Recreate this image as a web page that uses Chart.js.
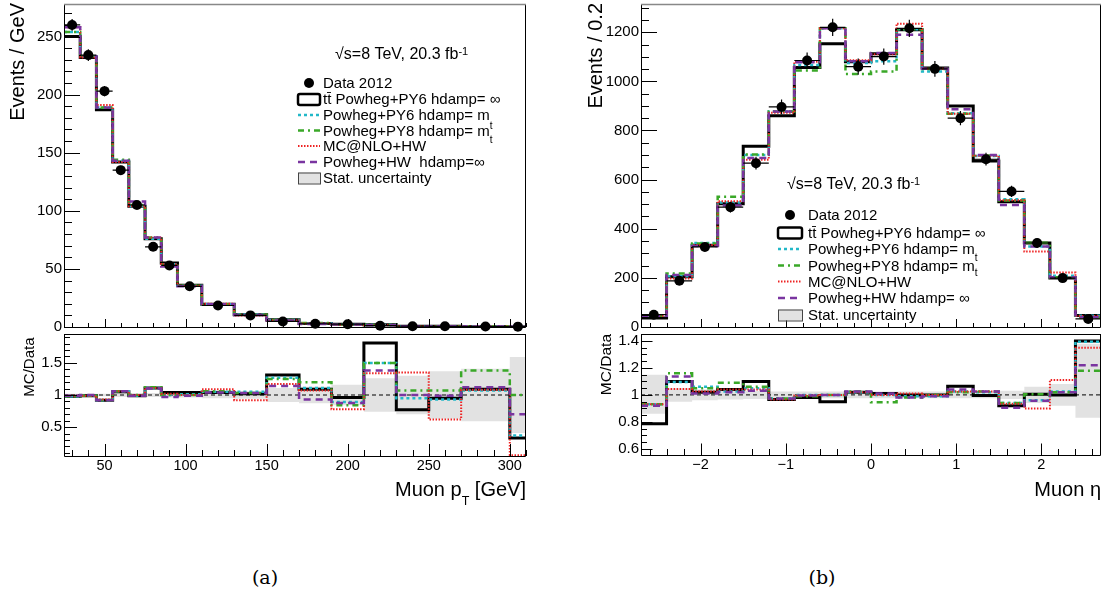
<!DOCTYPE html>
<html>
<head>
<meta charset="utf-8">
<script src="https://cdn.jsdelivr.net/npm/chart.js@4/dist/chart.umd.min.js"></script>
<style>
  body { margin: 0; background: #fff; width: 1106px; height: 596px; position: relative; overflow: hidden; }
  canvas { position: absolute; }
  .cap { position: absolute; top: 566px; font-family: 'DejaVu Serif', serif; font-size: 19px; line-height: 22px; transform: translateX(-50%); }
</style>
</head>
<body>
<canvas id="ptMain" width="530" height="332" style="left:0;top:0"></canvas>
<canvas id="ptRatio" width="530" height="180" style="left:0;top:330px"></canvas>
<canvas id="etaMain" width="546" height="332" style="left:560px;top:0"></canvas>
<canvas id="etaRatio" width="546" height="180" style="left:560px;top:330px"></canvas>
<div class="cap" style="left:265px">(a)</div>
<div class="cap" style="left:822px">(b)</div>
<script>
// (a) muon pT
const ptEdges = [25, 35, 45, 55, 65, 75, 85, 95, 110, 130, 150, 170, 190, 210, 230, 250, 270, 300, 310];
const ptData  = [260, 234, 203, 135, 105, 69, 53, 35, 18.5, 10, 4.8, 2.8, 2.4, 1.1, 0.7, 0.6, 0.4, 0.3];
const ptErr   = [5, 5, 4.5, 3.7, 3.2, 2.6, 2.3, 1.5, 1, 0.7, 0.5, 0.4, 0.35, 0.25, 0.2, 0.18, 0.12, 0.17];
const ptPy6   = [250, 232, 187, 142, 104, 76, 55, 36, 19.5, 10.5, 6.3, 3.1, 2.3, 2.0, 0.55, 0.55, 0.45, 0.1];
const ptPy6mt = [254, 233, 189, 143, 104, 76, 54, 35.5, 19.5, 10.8, 6.1, 3.1, 2.1, 1.65, 0.66, 0.55, 0.43, 0.12];
const ptPy8mt = [254, 233, 189, 144, 105, 77, 54, 35.5, 19.6, 10.6, 6.0, 3.4, 2.0, 1.65, 0.75, 0.63, 0.55, 0.3];
const ptNlo   = [258, 232, 191, 142, 104, 77, 54, 35.5, 20, 10, 5.6, 3.0, 1.9, 1.5, 0.95, 0.37, 0.43, 0.02];
const ptHw    = [258, 233, 189, 143, 108, 77, 52, 35, 19.5, 10.4, 5.5, 2.6, 2.1, 1.5, 0.7, 0.59, 0.45, 0.21];
const ptRPy6   = [0.98, 0.99, 0.92, 1.05, 0.99, 1.11, 1.04, 1.04, 1.04, 1.02, 1.31, 1.09, 0.96, 1.81, 0.77, 0.95, 1.09, 0.33];
const ptRPy6mt = [0.98, 0.99, 0.92, 1.06, 0.99, 1.11, 1.0, 1.01, 1.05, 1.05, 1.27, 1.11, 0.89, 1.5, 0.95, 0.93, 1.07, 0.37];
const ptRPy8mt = [0.98, 0.99, 0.92, 1.06, 1.0, 1.12, 1.0, 1.0, 1.06, 1.03, 1.25, 1.2, 0.84, 1.5, 1.07, 1.07, 1.38, 1.0];
const ptRNlo   = [0.99, 0.99, 0.93, 1.06, 1.0, 1.11, 1.02, 1.0, 1.09, 0.92, 1.17, 1.07, 0.78, 1.34, 1.35, 0.62, 1.08, 0.06];
const ptRHw    = [0.99, 1.0, 0.92, 1.06, 0.99, 1.1, 0.97, 0.99, 1.04, 1.03, 1.14, 0.93, 0.875, 1.38, 1.0, 0.99, 1.12, 0.7];
const ptBandLo = [0.98, 0.98, 0.98, 0.97, 0.97, 0.97, 0.96, 0.96, 0.95, 0.94, 0.89, 0.87, 0.84, 0.74, 0.7, 0.63, 0.59, 0.41];
const ptBandHi = [1.02, 1.02, 1.02, 1.03, 1.03, 1.03, 1.04, 1.04, 1.05, 1.06, 1.11, 1.13, 1.16, 1.26, 1.3, 1.37, 1.41, 1.59];
const ptXTicks = [50, 100, 150, 200, 250, 300];
const ptYTicks = [0, 50, 100, 150, 200, 250];
const ptRTicks = [0.5, 1, 1.5];

// (b) muon eta
const etaEdges = [-2.7, -2.4, -2.1, -1.8, -1.5, -1.2, -0.9, -0.6, -0.3, 0, 0.3, 0.6, 0.9, 1.2, 1.5, 1.8, 2.1, 2.4, 2.7];
const etaData  = [50, 188, 326, 488, 667, 896, 1085, 1220, 1060, 1101, 1216, 1051, 850, 683, 552, 342, 199, 33];
const etaErr   = [8, 14, 18, 22, 26, 30, 33, 35, 33, 33, 35, 32, 29, 26, 23, 18, 14, 7];
const etaPy6   = [37, 205, 333, 502, 736, 860, 1056, 1153, 1080, 1112, 1210, 1054, 900, 676, 510, 342, 199, 47];
const etaPy6mt = [46, 207, 342, 507, 700, 877, 1067, 1216, 1075, 1082, 1212, 1040, 870, 696, 520, 328, 209, 46];
const etaPy8mt = [46, 218, 340, 530, 702, 877, 1044, 1216, 1030, 1040, 1212, 1050, 868, 698, 515, 343, 203, 39];
const etaNlo   = [46, 197, 334, 512, 681, 872, 1080, 1216, 1086, 1110, 1235, 1051, 868, 697, 516, 307, 222, 45];
const etaHw    = [46, 212, 330, 495, 688, 877, 1078, 1216, 1082, 1116, 1190, 1051, 886, 700, 497, 328, 203, 40];
const etaRPy6   = [0.786, 1.10, 1.02, 1.04, 1.10, 0.966, 0.98, 0.95, 1.02, 1.01, 1.0, 1.0, 1.065, 0.995, 0.92, 1.005, 1.0, 1.4];
const etaRPy6mt = [0.93, 1.095, 1.06, 1.026, 1.05, 0.974, 1.0, 1.0, 1.02, 1.0, 0.99, 0.99, 1.026, 1.02, 0.94, 0.96, 1.026, 1.395];
const etaRPy8mt = [0.93, 1.16, 1.05, 1.09, 1.06, 0.974, 0.99, 1.0, 1.025, 0.946, 0.98, 1.0, 1.02, 1.026, 0.94, 1.005, 1.02, 1.18];
const etaRNlo   = [0.93, 1.044, 1.026, 1.04, 1.04, 0.965, 0.995, 1.0, 1.02, 1.0, 1.01, 1.0, 1.026, 1.026, 0.935, 0.90, 1.11, 1.35];
const etaRHw    = [0.92, 1.137, 1.01, 1.02, 1.03, 0.974, 0.995, 1.0, 1.025, 1.01, 0.98, 0.99, 1.04, 1.026, 0.905, 0.956, 1.02, 1.22];
const etaBandLo = [0.86, 0.95, 0.96, 0.965, 0.97, 0.975, 0.975, 0.975, 0.975, 0.975, 0.975, 0.975, 0.975, 0.975, 0.97, 0.94, 0.92, 0.83];
const etaBandHi = [1.15, 1.05, 1.04, 1.035, 1.03, 1.025, 1.025, 1.025, 1.025, 1.025, 1.025, 1.025, 1.025, 1.025, 1.03, 1.06, 1.08, 1.38];
const etaXTicks = [-2, -1, 0, 1, 2];
const etaYTicks = [0, 200, 400, 600, 800, 1000, 1200];
const etaRTicks = [0.6, 0.8, 1, 1.2, 1.4];

const ST = {
  py6:   { color: '#000000', width: 3,   dash: [] },
  py6mt: { color: '#22b8c8', width: 2.5, dash: [3, 3] },
  py8mt: { color: '#3aa828', width: 2.5, dash: [6, 4, 2, 4] },
  nlo:   { color: '#ee2222', width: 2,   dash: [1.5, 1.5] },
  hw:    { color: '#7a35a0', width: 2.5, dash: [7, 5] },
};

Chart.defaults.font.family = "'Liberation Sans', Arial, sans-serif";
Chart.defaults.color = '#000';

function steps(edges, vals) {
  return edges.map((x, i) => ({ x, y: vals[Math.min(i, vals.length - 1)] }));
}
function hist(edges, vals, st, order) {
  return { data: steps(edges, vals), stepped: 'before', borderColor: st.color, borderWidth: st.width,
           borderDash: st.dash, pointRadius: 0, fill: false, order };
}
function points(edges, vals, errs) {
  return { data: vals.map((y, i) => ({ x: (edges[i] + edges[i + 1]) / 2, y })), showLine: false,
           pointRadius: 5, pointBackgroundColor: '#000', pointBorderWidth: 0, order: 0, clip: false,
           binLo: edges.slice(0, -1), binHi: edges.slice(1), yErr: errs };
}
function band(edges, lo, hi) {
  return [
    { data: steps(edges, lo), stepped: 'before', borderWidth: 0, pointRadius: 0, fill: false, order: 10 },
    { data: steps(edges, hi), stepped: 'before', borderWidth: 0, pointRadius: 0, fill: '-1',
      backgroundColor: '#e2e2e2', order: 9 },
  ];
}
function unity(edges) {
  return { data: [{ x: edges[0], y: 1 }, { x: edges[edges.length - 1], y: 1 }], borderColor: '#000',
           borderWidth: 1, borderDash: [4, 3], pointRadius: 0, order: 8 };
}

function legendRows(ys, hwText, tdy) {
  return [
    { sym: 'dot', y: ys[0], parts: [{ t: 'Data 2012' }] },
    { sym: 'box', y: ys[1], parts: [{ t: 'tt\u0304 Powheg+PY6 hdamp= \u221E' }] },
    { sym: 'line', st: 'py6mt', y: ys[2], parts: [{ t: 'Powheg+PY6 hdamp= m' }, { t: 't', size: 10, dy: tdy[0] }] },
    { sym: 'line', st: 'py8mt', y: ys[3], parts: [{ t: 'Powheg+PY8 hdamp= m' }, { t: 't', size: 10, dy: tdy[1] }] },
    { sym: 'line', st: 'nlo', y: ys[4], parts: [{ t: 'MC@NLO+HW' }] },
    { sym: 'line', st: 'hw', y: ys[5], parts: [{ t: hwText }] },
    { sym: 'band', y: ys[6], parts: [{ t: 'Stat. uncertainty' }] },
  ];
}
const energy = [{ t: '\u221As=8 TeV, 20.3 fb' }, { t: '-1', size: 11, dy: -4 }];

const DECOR = {
  ptMain: {
    xMinor: 10, xMajor: 50, xLen: [8, 4], yMinor: 10, yMajor: 50, yLen: [16, 8], top: '#888',
    titles: [{ parts: [{ t: 'Events / GeV' }], x: 24, y: 3, size: 20, rot: true }],
    notes: [{ parts: energy, x: 335, y: 59, size: 16 }],
    legend: { sx0: 298, sx1: 320, tx: 323, size: 15,
              rows: legendRows([88, 104, 120, 135.5, 151, 167, 183], 'Powheg+HW  hdamp=\u221E', [9, 7]) },
  },
  ptRatio: {
    xMinor: 10, xMajor: 50, xLen: [12, 6], yMinor: 0.1, yMajor: 0.5, yLen: [13, 6], top: '#000',
    titles: [{ parts: [{ t: 'MC/Data' }], x: 33.5, y: 7.5, size: 15, rot: true },
             { parts: [{ t: 'Muon p' }, { t: 'T', size: 12.5, dy: 9 }, { t: ' [GeV]' }], x: 526, y: 166, size: 20, align: 'right' }],
  },
  etaMain: {
    xMinor: 0.2, xMajor: 1, xLen: [8, 4], yMinor: 50, yMajor: 200, yLen: [16, 8], top: '#888',
    titles: [{ parts: [{ t: 'Events / 0.2' }], x: 42, y: 3, size: 20, rot: true }],
    notes: [{ parts: energy, x: 227, y: 189, size: 16 }],
    legend: { sx0: 218, sx1: 242, tx: 248, size: 15,
              rows: legendRows([220, 237.5, 254, 270.5, 286.5, 303, 320], 'Powheg+HW hdamp= \u221E', [7, 5]) },
  },
  etaRatio: {
    xMinor: 0.2, xMajor: 1, xLen: [11.5, 6], yMinor: 0.05, yMajor: 0.2, yLen: [11.5, 6], top: '#000',
    titles: [{ parts: [{ t: 'MC/Data' }], x: 50.5, y: 4, size: 15.5, rot: true },
             { parts: [{ t: 'Muon \u03B7' }], x: 541, y: 166, size: 20, align: 'right' }],
  },
};

function richText(ctx, parts, x, y, size, align) {
  const segs = parts.map(p => {
    const s = p.size || size;
    ctx.font = s + "px 'Liberation Sans', Arial, sans-serif";
    return { t: p.t, s, w: ctx.measureText(p.t).width, dy: p.dy || 0 };
  });
  const total = segs.reduce((a, s) => a + s.w, 0);
  let cx = align === 'right' ? x - total : x;
  segs.forEach(sg => {
    ctx.font = sg.s + "px 'Liberation Sans', Arial, sans-serif";
    ctx.fillText(sg.t, cx, y + sg.dy);
    cx += sg.w;
  });
}

function styledLine(ctx, st, x0, x1, y) {
  ctx.save();
  ctx.strokeStyle = st.color; ctx.lineWidth = st.width; ctx.setLineDash(st.dash);
  ctx.beginPath(); ctx.moveTo(x0, y); ctx.lineTo(x1, y); ctx.stroke();
  ctx.restore();
}

const rootPad = {
  id: 'rootPad',
  afterDraw(chart) {
    const d = DECOR[chart.canvas.id];
    const { ctx, chartArea: a, scales: { x, y } } = chart;
    ctx.save();
    ctx.strokeStyle = '#000'; ctx.lineWidth = 1;
    ctx.beginPath();
    for (let n = Math.ceil(x.min / d.xMinor - 1e-6); n * d.xMinor <= x.max + 1e-6; n++) {
      const v = n * d.xMinor;
      const major = Math.abs(v / d.xMajor - Math.round(v / d.xMajor)) < 1e-6;
      const px = Math.round(x.getPixelForValue(v)) + 0.5;
      ctx.moveTo(px, a.bottom); ctx.lineTo(px, a.bottom - d.xLen[major ? 0 : 1]);
    }
    for (let n = Math.ceil(y.min / d.yMinor - 1e-6); n * d.yMinor <= y.max + 1e-6; n++) {
      const v = n * d.yMinor;
      const major = Math.abs(v / d.yMajor - Math.round(v / d.yMajor)) < 1e-6;
      const py = Math.round(y.getPixelForValue(v)) + 0.5;
      ctx.moveTo(a.left, py); ctx.lineTo(a.left + d.yLen[major ? 0 : 1], py);
    }
    ctx.stroke();
    // frame
    ctx.beginPath();
    ctx.moveTo(a.left + 0.5, a.top); ctx.lineTo(a.left + 0.5, a.bottom + 0.5);
    ctx.lineTo(a.right - 0.5, a.bottom + 0.5); ctx.lineTo(a.right - 0.5, a.top);
    ctx.stroke();
    ctx.strokeStyle = d.top; ctx.lineWidth = d.top === '#000' ? 1 : 1.6;
    ctx.beginPath(); ctx.moveTo(a.left, a.top + 0.5); ctx.lineTo(a.right, a.top + 0.5); ctx.stroke();

    ctx.fillStyle = '#000';
    (d.titles || []).forEach(t => {
      if (t.rot) {
        ctx.save(); ctx.translate(t.x, t.y); ctx.rotate(-Math.PI / 2);
        richText(ctx, t.parts, 0, 0, t.size, 'right');
        ctx.restore();
      } else {
        richText(ctx, t.parts, t.x, t.y, t.size, t.align);
      }
    });
    (d.notes || []).forEach(t => richText(ctx, t.parts, t.x, t.y, t.size, 'left'));

    const L = d.legend;
    if (L) {
      L.rows.forEach(r => {
        const cy = r.y - 5, w = L.sx1 - L.sx0;
        if (r.sym === 'dot') {
          ctx.beginPath(); ctx.arc((L.sx0 + L.sx1) / 2, cy, 5, 0, Math.PI * 2); ctx.fill();
        } else if (r.sym === 'box') {
          ctx.save(); ctx.lineWidth = 2.5; ctx.strokeStyle = '#000';
          ctx.beginPath(); ctx.roundRect(L.sx0, r.y - 10, w, 11, 2); ctx.stroke();
          ctx.restore();
        } else if (r.sym === 'band') {
          ctx.save(); ctx.fillStyle = '#e2e2e2'; ctx.strokeStyle = '#444'; ctx.lineWidth = 1;
          ctx.fillRect(L.sx0, r.y - 10.5, w, 11); ctx.strokeRect(L.sx0 + 0.5, r.y - 10, w, 11);
          ctx.restore();
        } else {
          styledLine(ctx, ST[r.st], L.sx0, L.sx1, cy);
        }
        richText(ctx, r.parts, L.tx, r.y, L.size, 'left');
      });
    }
    ctx.restore();
  }
};

const errBars = {
  id: 'errBars',
  afterDatasetsDraw(chart) {
    const { ctx, scales: { x, y } } = chart;
    chart.data.datasets.forEach(ds => {
      if (!ds.yErr) return;
      ctx.save(); ctx.strokeStyle = '#000'; ctx.lineWidth = 1.2;
      ctx.beginPath();
      ds.data.forEach((p, i) => {
        const px = x.getPixelForValue(p.x), py = y.getPixelForValue(p.y);
        ctx.moveTo(x.getPixelForValue(ds.binLo[i]), py); ctx.lineTo(x.getPixelForValue(ds.binHi[i]), py);
        ctx.moveTo(px, y.getPixelForValue(Math.max(y.min, p.y - ds.yErr[i])));
        ctx.lineTo(px, y.getPixelForValue(p.y + ds.yErr[i]));
      });
      ctx.stroke(); ctx.restore();
    });
  }
};

const fmt = v => (v < 0 ? '\u2212' + (-v) : String(v));

function makeChart(id, datasets, c) {
  return new Chart(document.getElementById(id), {
    type: 'line',
    data: { datasets },
    options: {
      responsive: false, animation: false, events: [],
      layout: { autoPadding: false, padding: c.pad },
      plugins: { legend: { display: false }, tooltip: { enabled: false } },
      scales: {
        x: {
          type: 'linear', min: c.xr[0], max: c.xr[1],
          grid: { display: false, drawTicks: false }, border: { display: false },
          afterBuildTicks: s => { s.ticks = c.xTicks.map(value => ({ value })); },
          afterFit: s => { s.height = c.xH; s.paddingLeft = 0; s.paddingRight = 0; },
          ticks: { display: c.xLabels, autoSkip: false, maxRotation: 0, padding: 1, font: { size: 14.5 }, callback: fmt },
        },
        y: {
          type: 'linear', min: c.yr[0], max: c.yr[1],
          grid: { display: false, drawTicks: false }, border: { display: false },
          afterBuildTicks: s => { s.ticks = c.yTicks.map(value => ({ value })); },
          afterFit: s => { s.width = c.yW; s.paddingTop = 0; s.paddingBottom = 0; },
          ticks: { autoSkip: false, padding: 2, font: { size: 15 }, callback: fmt },
        },
      },
    },
    plugins: [rootPad, errBars],
  });
}

makeChart('ptMain', [
  points(ptEdges, ptData, ptErr),
  hist(ptEdges, ptPy6, ST.py6, 6), hist(ptEdges, ptPy6mt, ST.py6mt, 5), hist(ptEdges, ptPy8mt, ST.py8mt, 4),
  hist(ptEdges, ptNlo, ST.nlo, 3), hist(ptEdges, ptHw, ST.hw, 2),
], { pad: { left: 0, top: 4, right: 4, bottom: 5 }, xr: [25, 310], yr: [0, 278], xTicks: ptXTicks, yTicks: ptYTicks,
     xLabels: false, xH: 0, yW: 64 });

makeChart('ptRatio', [
  ...band(ptEdges, ptBandLo, ptBandHi), unity(ptEdges),
  hist(ptEdges, ptRPy6, ST.py6, 6), hist(ptEdges, ptRPy6mt, ST.py6mt, 5), hist(ptEdges, ptRPy8mt, ST.py8mt, 4),
  hist(ptEdges, ptRNlo, ST.nlo, 3), hist(ptEdges, ptRHw, ST.hw, 2),
], { pad: { left: 0, top: 4, right: 4, bottom: 0 }, xr: [25, 310], yr: [0.05, 1.95], xTicks: ptXTicks, yTicks: ptRTicks,
     xLabels: true, xH: 54, yW: 64 });

makeChart('etaMain', [
  points(etaEdges, etaData, etaErr),
  hist(etaEdges, etaPy6, ST.py6, 6), hist(etaEdges, etaPy6mt, ST.py6mt, 5), hist(etaEdges, etaPy8mt, ST.py8mt, 4),
  hist(etaEdges, etaNlo, ST.nlo, 3), hist(etaEdges, etaHw, ST.hw, 2),
], { pad: { left: 0, top: 4, right: 5, bottom: 5 }, xr: [-2.7, 2.7], yr: [0, 1315], xTicks: etaXTicks, yTicks: etaYTicks,
     xLabels: false, xH: 0, yW: 81 });

makeChart('etaRatio', [
  ...band(etaEdges, etaBandLo, etaBandHi), unity(etaEdges),
  hist(etaEdges, etaRPy6, ST.py6, 6), hist(etaEdges, etaRPy6mt, ST.py6mt, 5), hist(etaEdges, etaRPy8mt, ST.py8mt, 4),
  hist(etaEdges, etaRNlo, ST.nlo, 3), hist(etaEdges, etaRHw, ST.hw, 2),
], { pad: { left: 0, top: 4, right: 5, bottom: 0 }, xr: [-2.7, 2.7], yr: [0.554, 1.452], xTicks: etaXTicks, yTicks: etaRTicks,
     xLabels: true, xH: 55, yW: 81 });
</script>
</body>
</html>
